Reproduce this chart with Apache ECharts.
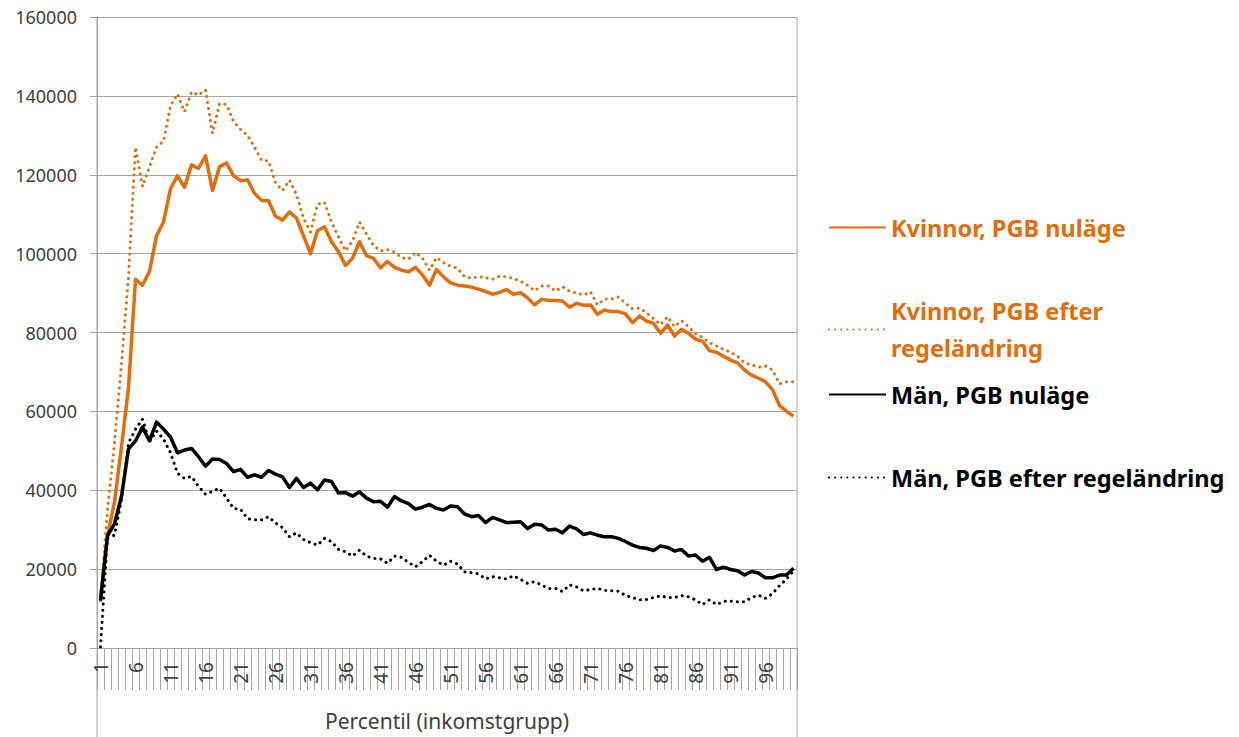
<!DOCTYPE html>
<html>
<head>
<meta charset="utf-8">
<script src="https://cdn.jsdelivr.net/npm/echarts@6/dist/echarts.min.js"></script>
<style>
  html, body { margin: 0; padding: 0; background: #fff; }
  #chart { width: 1239px; height: 737px; }
</style>
</head>
<body>
<div id="chart"></div>
<script>
// percentiler 1..100
const categories = [];
for (let i = 1; i <= 100; i++) categories.push(String(i));

const yTicks = [0, 20000, 40000, 60000, 80000, 100000, 120000, 140000, 160000];

const kvinnorNu = [12500, 28500, 37000, 51000, 66000, 93500, 92000, 95500, 104500, 108000,
  116500, 119700, 116800, 122500, 121600, 124800, 116000, 122000, 123000, 119800,
  118500, 118700, 115300, 113500, 113400, 109500, 108500, 110600, 109000, 104500,
  100000, 105800, 106800, 103000, 100500, 97000, 98800, 103000, 99500, 98800,
  96400, 98000, 96500, 95800, 95400, 96500, 94600, 92000, 96000, 94100,
  92600, 92000, 91800, 91500, 91000, 90400, 89700, 90200, 90900, 89700,
  90100, 88800, 87000, 88400, 88200, 88100, 88000, 86400, 87400, 86900,
  87000, 84600, 85700, 85300, 85300, 84700, 82500, 84200, 82900, 82300,
  79800, 81900, 79100, 80800, 79800, 78300, 77800, 75400, 75000, 74000,
  73000, 72300, 70500, 69200, 68400, 67500, 65500, 61500, 60000, 58800];

const kvinnorEfter = [12000, 35000, 52000, 72000, 94000, 127000, 117000, 122000, 127000, 128500,
  137500, 140500, 136000, 141000, 140200, 141500, 130500, 138000, 137800, 133500,
  131500, 130000, 127000, 123700, 123500, 118000, 116000, 118600, 115000, 109000,
  105500, 112500, 113000, 108000, 104200, 100700, 103200, 108000, 105000, 102000,
  100700, 101000, 100400, 99000, 98600, 100300, 98800, 95800, 99000, 97700,
  96800, 96300, 94200, 93700, 94200, 93900, 93500, 94300, 94100, 93700,
  93000, 92000, 90600, 91800, 91800, 90500, 91600, 90500, 90000, 89500,
  90300, 87000, 88500, 88500, 89000, 87400, 86000, 86200, 85000, 83500,
  82000, 84000, 81500, 83000, 81500, 79700, 78800, 77400, 76600, 75700,
  75000, 74000, 72300, 71800, 71200, 71500, 70500, 67000, 67500, 67500];

const manNu = [12000, 28500, 31500, 38500, 50500, 52500, 56000, 52500, 57300, 55500,
  53500, 49500, 50200, 50600, 48500, 46100, 47900, 47800, 46800, 44700,
  45300, 43300, 43900, 43300, 45000, 44100, 43400, 40700, 43000, 40700,
  41800, 40100, 42600, 42200, 39300, 39400, 38500, 39600, 38000, 37100,
  37200, 35700, 38400, 37300, 36600, 35200, 35700, 36400, 35400, 35000,
  36000, 35800, 34000, 33300, 33600, 31800, 33100, 32500, 31800, 31900,
  32000, 30300, 31400, 31200, 29900, 30100, 29200, 30900, 30200, 28800,
  29200, 28600, 28200, 28200, 27800, 27000, 26100, 25500, 25300, 24700,
  25900, 25500, 24600, 25000, 23300, 23600, 22000, 23000, 19900, 20500,
  19900, 19600, 18500, 19400, 19000, 17800, 17800, 18500, 18500, 20200];

const manEfter = [300, 28000, 28600, 37500, 52000, 55500, 58000, 52300, 55000, 53000,
  49500, 44300, 43000, 43500, 41000, 39000, 39700, 40500, 38000, 35400,
  35200, 32800, 32500, 32500, 33300, 31700, 30500, 28200, 29200, 27500,
  26700, 26100, 27800, 27000, 25000, 24400, 23300, 24800, 23300, 22700,
  22600, 21500, 23300, 23000, 21700, 20600, 21900, 23500, 22000, 21000,
  22000, 21300, 19300, 19100, 18800, 17500, 18100, 17800, 17500, 18300,
  17400, 16400, 16800, 16000, 15100, 15100, 14300, 16000, 15500, 14500,
  14800, 15100, 14600, 14500, 14400, 13300, 12800, 12200, 12300, 12800,
  13200, 12800, 12800, 13300, 13000, 12200, 11000, 12200, 11000, 11800,
  11900, 11700, 11700, 12800, 13400, 12600, 13800, 15800, 17500, 19500];

const ORANGE = '#E46C0A';
const BLACK = '#000000';
const GRAY = '#a6a6a6';
const TXT = '#404040';
const FONT = '"Noto Sans", sans-serif';

// plot area
const PL = 97, PR = 797, PT = 17, PB = 648;

const chart = echarts.init(document.getElementById('chart'), null, { renderer: 'svg' });

function legendFor(name, color, top, twoLines) {
  return {
    data: [name],
    left: 823,
    top: top,
    orient: 'vertical',
    itemWidth: 57,
    itemHeight: 14,
    selectedMode: false,
    itemStyle: { opacity: 0 }, // ingen cirkel i ikonen
    formatter: twoLines ? 'Kvinnor, PGB efter\nregeländring' : '{name}',
    textStyle: {
      color: color,
      fontFamily: FONT,
      fontWeight: 'bold',
      fontSize: 23.5,
      lineHeight: 37,
      padding: twoLines ? [37, 0, 0, 0] : 0
    }
  };
}

function lineSeries(name, data, color, dotted) {
  return {
    name: name,
    type: 'line',
    data: data,
    symbol: 'none',
    animation: false,
    lineStyle: dotted
      ? { color: color, width: 3, type: [0.1, 6], cap: 'round' }
      : { color: color, width: 3.5, join: 'round' },
    itemStyle: { color: color }
  };
}

chart.setOption({
  backgroundColor: '#fff',
  animation: false,
  grid: { left: PL, right: 1239 - PR, top: PT, bottom: 737 - PB, containLabel: false },
  legend: [
    legendFor('Kvinnor, PGB nuläge', ORANGE, 204),
    legendFor('Kvinnor, PGB efter regeländring', ORANGE, 269, true),
    legendFor('Män, PGB nuläge', BLACK, 371),
    legendFor('Män, PGB efter regeländring', BLACK, 454)
  ],
  xAxis: {
    type: 'category',
    data: categories,
    boundaryGap: true,
    name: 'Percentil (inkomstgrupp)',
    nameLocation: 'middle',
    nameGap: 62,
    nameTextStyle: { color: TXT, fontFamily: FONT, fontSize: 21 },
    axisLine: { show: true, lineStyle: { color: GRAY, width: 1 } },
    axisTick: { show: true, interval: 0, length: 42, lineStyle: { color: GRAY } },
    axisLabel: {
      interval: 4,
      rotate: 90,
      margin: 14,
      color: TXT,
      fontFamily: FONT,
      fontSize: 19
    },
    splitLine: { show: false }
  },
  yAxis: {
    type: 'value',
    min: yTicks[0],
    max: yTicks[yTicks.length - 1],
    interval: 20000,
    axisLine: { show: true, lineStyle: { color: GRAY } },
    axisTick: { show: true, length: 7, lineStyle: { color: GRAY } },
    axisLabel: {
      color: TXT, fontFamily: FONT, fontSize: 18, margin: 20,
      formatter: (v) => String(v)
    },
    splitLine: { show: true, lineStyle: { color: GRAY, width: 1 } }
  },
  // ramlinjer som går ned under axeln
  graphic: [
    { type: 'line', shape: { x1: PL, y1: PT, x2: PL, y2: 737 }, style: { stroke: GRAY, lineWidth: 1 } },
    { type: 'line', shape: { x1: PR, y1: PT, x2: PR, y2: 737 }, style: { stroke: GRAY, lineWidth: 1 } }
  ],
  series: [
    lineSeries('Kvinnor, PGB nuläge', kvinnorNu, ORANGE, false),
    lineSeries('Kvinnor, PGB efter regeländring', kvinnorEfter, ORANGE, true),
    lineSeries('Män, PGB nuläge', manNu, BLACK, false),
    lineSeries('Män, PGB efter regeländring', manEfter, BLACK, true)
  ]
});
</script>
</body>
</html>
